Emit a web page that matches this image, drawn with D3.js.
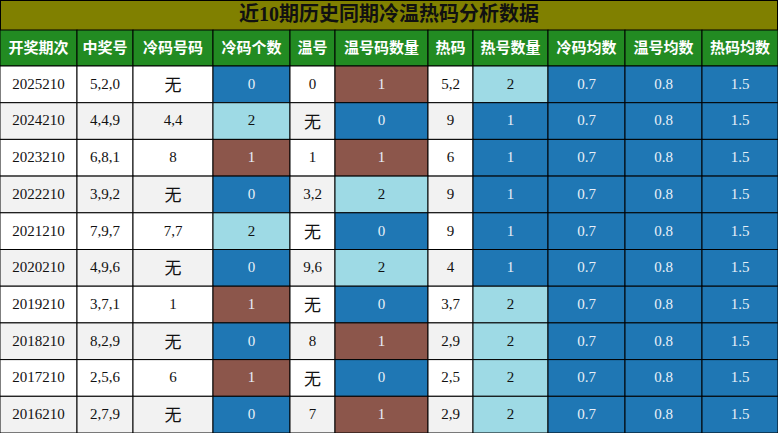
<!DOCTYPE html>
<html><head><meta charset="utf-8">
<script src="https://cdn.jsdelivr.net/npm/d3@7"></script>
<style>body{margin:0;background:#fff}</style>
</head><body>
<svg id="chart" width="778" height="433"></svg>
<script>
var title = "近10期历史同期冷温热码分析数据";
var headers = ["开奖期次","中奖号","冷码号码","冷码个数","温号","温号码数量","热码","热号数量","冷码均数","温号均数","热码均数"];
var periods = ["2025210","2024210","2023210","2022210","2021210","2020210","2019210","2018210","2017210","2016210"];
var winning = ["5,2,0","4,4,9","6,8,1","3,9,2","7,9,7","4,9,6","3,7,1","8,2,9","2,5,6","2,7,9"];
var coldNums = ["无","4,4","8","无","7,7","无","1","无","6","无"];
var coldCount = [0,2,1,0,2,0,1,0,1,0];
var warmNums = ["0","无","1","3,2","无","9,6","无","8","无","7"];
var warmCount = [1,0,1,2,0,2,0,1,0,1];
var hotNums = ["5,2","9","6","9","9","4","3,7","2,9","2,5","2,9"];
var hotCount = [2,1,1,1,1,1,2,2,2,2];
var coldAvg = [0.7,0.7,0.7,0.7,0.7,0.7,0.7,0.7,0.7,0.7];
var warmAvg = [0.8,0.8,0.8,0.8,0.8,0.8,0.8,0.8,0.8,0.8];
var hotAvg = [1.5,1.5,1.5,1.5,1.5,1.5,1.5,1.5,1.5,1.5];
var colEdges = [0,77,133,213,290,335,428,473,548,625,702,778];

var blue = "#1f77b4", brown = "#8c564b", light = "#9edae5";
var countColor = d3.scaleOrdinal().domain([0,1,2]).range([blue, brown, light]);
var hotColor = d3.scaleOrdinal().domain([1,2]).range([blue, light]);

var columns = [periods, winning, coldNums, coldCount, warmNums, warmCount, hotNums, hotCount, coldAvg, warmAvg, hotAvg];
var fills = [null,null,null,countColor,null,countColor,null,hotColor,function(){return blue;},function(){return blue;},function(){return blue;}];

var svg = d3.select("#chart");
var W = 778, titleH = 30, headH = 36;
var y = d3.scaleBand().domain(d3.range(periods.length)).range([titleH + headH, 433]);

svg.append("rect").attr("x",0.5).attr("y",0.5).attr("width",W-1).attr("height",titleH)
  .attr("fill","#808000").attr("stroke","#000");
svg.append("text").attr("x",W/2).attr("y",titleH/2+1).attr("text-anchor","middle").attr("dominant-baseline","middle")
  .attr("font-family","'Liberation Serif','Noto Sans CJK SC'").attr("font-weight","bold").attr("font-size",20)
  .attr("fill","#111").text(title);

headers.forEach(function(h, i){
  var x0 = colEdges[i], x1 = colEdges[i+1];
  svg.append("rect").attr("x",x0).attr("y",titleH).attr("width",x1-x0).attr("height",headH)
    .attr("fill","#228b22").attr("stroke","#000");
  svg.append("text").attr("x",(x0+x1)/2).attr("y",titleH+headH/2+1).attr("text-anchor","middle")
    .attr("dominant-baseline","middle").attr("font-family","'Noto Sans CJK SC'").attr("font-weight","bold")
    .attr("font-size",15).attr("fill","#fff").text(h);
});

periods.forEach(function(p, r){
  columns.forEach(function(col, i){
    var x0 = colEdges[i], x1 = colEdges[i+1], v = col[r];
    var f = fills[i] ? fills[i](v) : (r % 2 ? "#f2f2f2" : "#fff");
    svg.append("rect").attr("x",x0).attr("y",y(r)).attr("width",x1-x0).attr("height",y.bandwidth())
      .attr("fill",f).attr("stroke","#000");
    var isWu = v === "无";
    svg.append("text").attr("x",(x0+x1)/2).attr("y",y(r)+y.bandwidth()/2+(isWu?2:1)).attr("text-anchor","middle")
      .attr("dominant-baseline","middle")
      .attr("font-family", isWu ? "'Noto Sans CJK SC'" : "'Liberation Serif'")
      .attr("font-size", isWu ? 17 : 15)
      .attr("fill", (fills[i] && f !== light) ? "#e8f0f8" : "#111")
      .text(v);
  });
});
</script>
</body></html>
